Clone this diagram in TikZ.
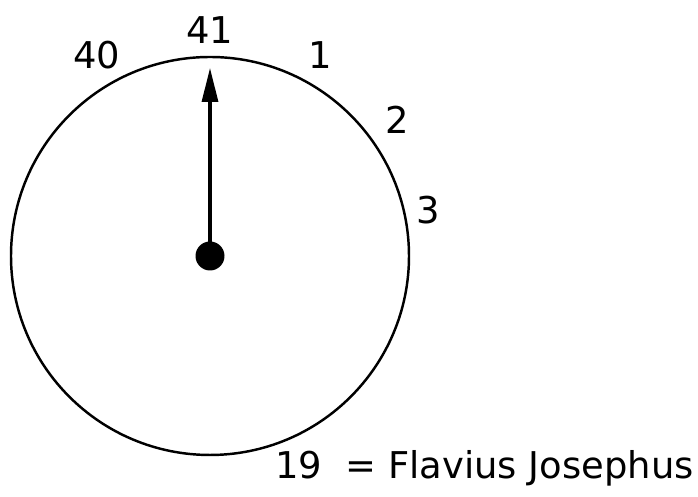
\documentclass[tikz,border=0pt]{standalone}
\usepackage{fontspec}
\setmainfont{DejaVu Sans}
\usepackage{tikz}
\usetikzlibrary{arrows.meta}

\begin{document}
\begin{tikzpicture}[every node/.style={font=\fontsize{21}{25}\selectfont},
    num/.style={inner sep=0pt}]
      \useasboundingbox (0,0) rectangle (13.96,9.94);
      % ring of soldiers
      \node[draw, circle, line width=1.4pt, minimum size=7.96cm, inner sep=0pt] (ring) at (4.2,4.82) {};
      \node[fill, circle, minimum size=0.58cm, inner sep=0pt] (hub) at (4.2,4.82) {};
      \coordinate (tip) at (4.2,8.58);
      \draw[-{Triangle[length=0.68cm, width=0.32cm]}, line width=1.8pt] (hub.center) -- (tip);

      % positions
      \node[num] (p41) at (4.2,9.34) {41};
      \node[num] (p40) at (1.94,8.84) {40};
      \node[num] (p1) at (6.4,8.84) {1};
      \node[num] (p2) at (7.94,7.54) {2};
      \node[num] (p3) at (8.56,5.74) {3};
      \node[num, anchor=west] (p19) at (5.5,0.58) {19\ \ = Flavius Josephus};
    \end{tikzpicture}
\end{document}
